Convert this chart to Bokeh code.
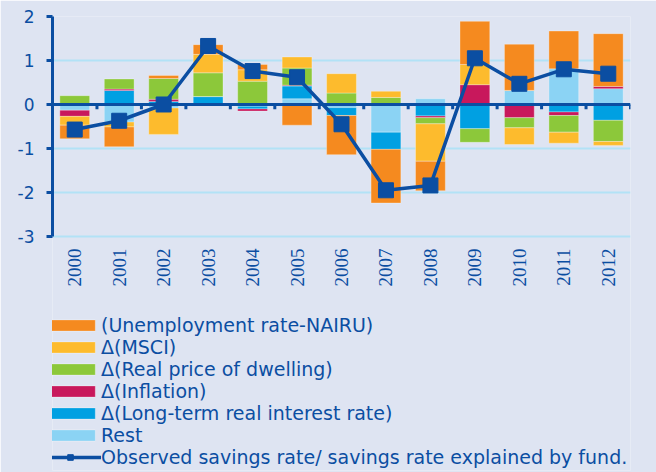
import numpy as np
from bokeh.plotting import figure
from bokeh.models import (Range1d, FactorRange, FixedTicker, Legend, LegendItem,
                          ColumnDataSource, CustomJSTickFormatter)
from bokeh.transform import dodge
from bokeh.embed import file_html
from bokeh.resources import INLINE

years = ["2000", "2001", "2002", "2003", "2004", "2005", "2006",
         "2007", "2008", "2009", "2010", "2011", "2012"]

nairu = [-0.31, -0.45, 0.07, 0.22, 0.12, -0.47, -0.89, -1.22, -0.67, 0.98, 1.05, 0.86, 1.20]
msci = [-0.20, -0.11, -0.60, 0.42, 0.26, 0.25, 0.44, 0.14, -0.85, 0.46, -0.38, -0.25, -0.09]
dwelling = [0.20, 0.23, 0.47, 0.54, 0.53, 0.39, 0.26, 0.16, -0.14, -0.31, -0.23, -0.38, -0.48]
inflation = [-0.14, 0.03, 0.05, 0.00, -0.05, 0.02, 0.00, 0.00, -0.04, 0.45, -0.30, -0.08, 0.05]
lt_rate = [0.00, 0.32, 0.07, 0.18, -0.06, 0.29, -0.18, -0.39, -0.26, -0.55, 0.00, -0.17, -0.36]
rest = [-0.13, -0.40, -0.08, 0.00, -0.04, 0.13, -0.07, -0.63, 0.13, 0.00, 0.32, 0.81, 0.36]

observed = [-0.57, -0.37, 0.00, 1.33, 0.76, 0.62, -0.45, -1.95, -1.84, 1.05, 0.47, 0.80, 0.70]

labels = ["(Unemployment rate-NAIRU)", "\u0394(MSCI)", "\u0394(Real price of dwelling)",
          "\u0394(Inflation)", "\u0394(Long-term real interest rate)", "Rest"]
line_label = "Observed savings rate/ savings rate explained by fund."
y_ticks = [-3, -2, -1, 0, 1, 2]

colors = ["#F58A1F", "#FDBB2D", "#8CC83A", "#C8185C", "#00A0E2", "#8BD3F4"]
dark = "#0B4EA2"
bg = "#DEE4F2"
font = "DejaVu Sans"

# frame covers the chart (y 2 .. -3) plus the legend area below it
y_low = -8.32
p = figure(frame_width=578, frame_height=454, x_range=FactorRange(*years, range_padding=0),
           y_range=Range1d(y_low, 2), output_backend="svg", toolbar_location=None,
           min_border_left=52, min_border_right=26, min_border_top=16, min_border_bottom=2)
p.background_fill_color = bg
p.border_fill_color = bg
p.outline_line_color = None

# axes
p.xgrid.grid_line_color = None
p.ygrid.grid_line_color = "#B2E2F6"
p.ygrid.grid_line_width = 2
p.yaxis.ticker = FixedTicker(ticks=y_ticks)
p.yaxis.bounds = (min(y_ticks), max(y_ticks))
p.yaxis.formatter = CustomJSTickFormatter(code="return String(tick)")
p.yaxis.axis_line_color = dark
p.yaxis.axis_line_width = 3
p.yaxis.major_tick_line_color = dark
p.yaxis.major_tick_line_width = 3
p.yaxis.major_tick_out = 6
p.yaxis.major_tick_in = 0
p.yaxis.minor_tick_line_color = None
p.yaxis.major_label_text_color = dark
p.yaxis.major_label_text_font = font
p.yaxis.major_label_text_font_size = "17px"
p.yaxis.major_label_standoff = 12
p.xaxis.visible = False

# stacked bars
series = [rest, lt_rate, inflation, dwelling, msci, nairu]
ser_colors = colors[::-1]
ser_labels = labels[::-1]
pos = np.zeros(len(years))
neg = np.zeros(len(years))
bar_renderers = {}
for vals, col, lab in zip(series, ser_colors, ser_labels):
    v = np.array(vals, dtype=float)
    bottom = np.where(v >= 0, pos, neg + v)
    top = np.where(v >= 0, pos + v, neg)
    pos = pos + np.clip(v, 0, None)
    neg = neg + np.clip(v, None, 0)
    src = ColumnDataSource(dict(x=years, top=top, bottom=bottom))
    r = p.vbar(x="x", top="top", bottom="bottom", width=0.67, source=src,
               fill_color=col, line_color="#FFFFFF", line_alpha=0.3, line_width=1)
    bar_renderers[lab] = r

# zero axis with separators
p.hspan(y=[0], line_color=dark, line_width=3)
tick_src = ColumnDataSource(dict(x=years, y0=[0] * len(years), y1=[-0.11] * len(years),
                                 ylab=[min(y_ticks)] * len(years)))
p.segment(x0=dodge("x", 0.5, range=p.x_range), x1=dodge("x", 0.5, range=p.x_range),
          y0="y0", y1="y1", source=tick_src, line_color=dark, line_width=3)

# category labels (vertical, below the chart)
p.text(x="x", y="ylab", text="x", source=tick_src, angle=np.pi / 2, y_offset=12,
       text_align="right", text_baseline="middle", text_color=dark,
       text_font=font, text_font_size="19px")

# observed line
lsrc = ColumnDataSource(dict(x=years, y=observed))
lr = p.line(x="x", y="y", source=lsrc, line_color=dark, line_width=3.5)
sr = p.scatter(x="x", y="y", source=lsrc, marker="square", size=15,
               fill_color=dark, line_color=dark)

items = [LegendItem(label=lab, renderers=[bar_renderers[lab]]) for lab in labels]
items.append(LegendItem(label=line_label, renderers=[lr, sr]))
legend = Legend(items=items, location=(-13, 2), orientation="vertical",
                glyph_width=62, glyph_height=14, label_height=20, spacing=0,
                label_standoff=0, padding=0, margin=0,
                label_text_font=font, label_text_font_size="19px",
                label_text_color=dark, border_line_color=None,
                background_fill_alpha=0)
p.add_layout(legend)

open("out.html", "w").write(file_html(p, INLINE))
